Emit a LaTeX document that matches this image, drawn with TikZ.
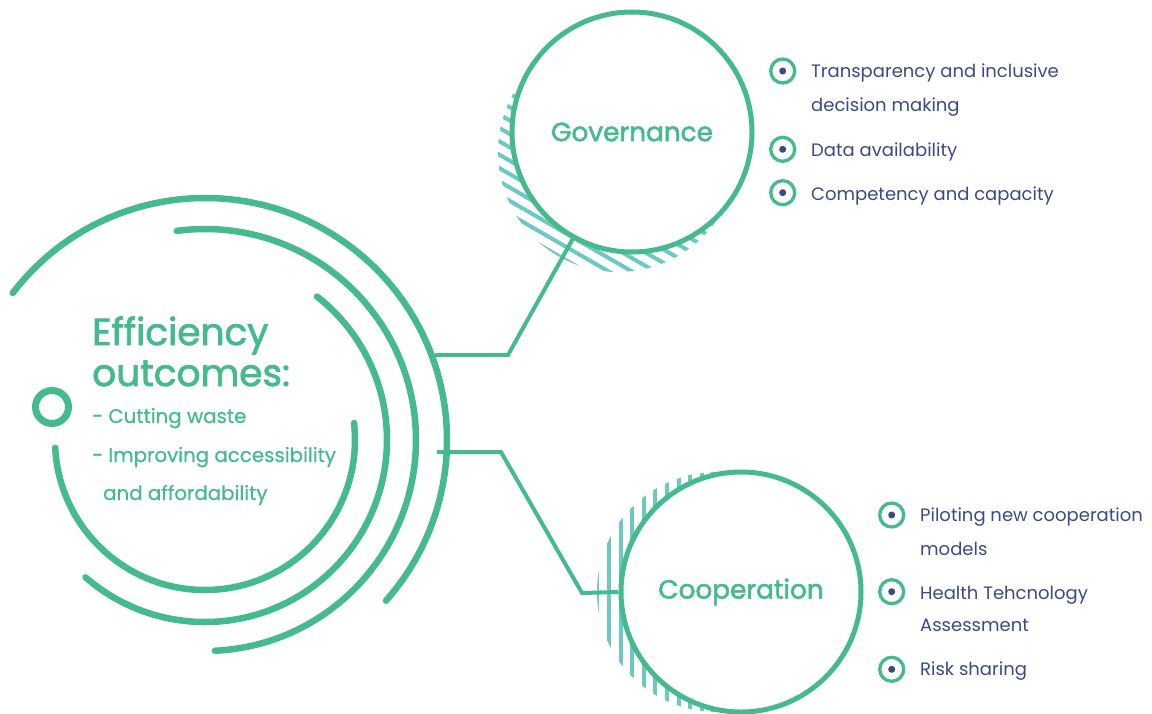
\documentclass[tikz,border=0pt]{standalone}
\usepackage{fontspec}
\setmainfont{Poppins}
\newfontfamily\headfont[FakeBold=2]{Poppins}
\newfontfamily\midfont[FakeBold=0.6]{Poppins}
\definecolor{grn}{HTML}{45BA8D}
\definecolor{hatchc}{HTML}{6CC9C1}
\definecolor{txtblue}{HTML}{3B4A85}
\tikzset{
  arcline/.style={draw=grn, line width=6.5pt, line cap=round},
  conn/.style={draw=grn, line width=4pt},
  hatchline/.style={draw=hatchc, line width=4pt},
  bigcirc/.style={circle, draw=grn, fill=white, line width=5pt, minimum size=240pt, inner sep=0pt, text=grn, font=\headfont\fontsize{26.3}{30}\selectfont},
  bul/.style={circle, draw=grn, line width=3.3pt, minimum size=24pt, inner sep=0pt},
  buldot/.style={circle, fill=txtblue, minimum size=7pt, inner sep=0pt},
  btext/.style={anchor=base west, inner sep=0pt, text=txtblue, font=\fontsize{18}{21}\selectfont},
  gtext/.style={anchor=base west, inner sep=0pt, text=grn, font=\midfont\fontsize{19.8}{23}\selectfont},
  htext/.style={anchor=base west, inner sep=0pt, text=grn, font=\headfont\fontsize{37.5}{42}\selectfont}
}
\begin{document}
\begin{tikzpicture}[x=1pt,y=1pt]
\useasboundingbox (0,0) rectangle (1152,-713);

% hatch of Governance
\begin{scope}
\clip[shift={(618,-152)}, rotate=-30] (0:120) arc[start angle=0, end angle=-180, radius=120] -- cycle;
\foreach \k in {0,...,11}
  \draw[hatchline, shift={(618,-152)}, rotate=-30] (-130,-\k*11.6-3.7) -- (130,-\k*11.6-3.7);
\end{scope}
% hatch of Cooperation
\begin{scope}
\clip[shift={(717,-592)}] (90:120) arc[start angle=90, end angle=270, radius=120] -- cycle;
\foreach \k in {0,...,11}
  \draw[hatchline, shift={(717,-592)}] (-\k*11.6-3.7,-130) -- (-\k*11.6-3.7,130);
\end{scope}

% left arcs
\coordinate (ctr) at (205,-440);
\draw[arcline] (ctr) ++(183:150) arc[start angle=183, end angle=366.5, radius=150];
\draw[arcline] (ctr) ++(229:182) arc[start angle=229, end angle=412, radius=182];
\draw[arcline] (ctr) ++(-87.3:211) arc[start angle=-87.3, end angle=97.7, radius=211];
\draw[arcline] (ctr) ++(142.6:242) arc[start angle=142.6, end angle=-41.6, radius=242];
\node[circle, draw=grn, line width=7pt, minimum size=33pt, inner sep=0pt] (ring) at (52,-407) {};

% main circles
\node[bigcirc] (gov) at (632,-132) {Governance};
\node[bigcirc] (coop) at (741,-592) {Cooperation};

% connectors
\coordinate (g1) at (508,-355);
\coordinate (g2) at (435,-355);
\coordinate (c1) at (582,-593);
\coordinate (c2) at (501,-452);
\coordinate (c3) at (437,-452);
\draw[conn] (gov.241) -- (g1) -- (g2);
\draw[conn] (coop.west) -- (c1) -- (c2) -- (c3);

% efficiency text
\node[htext] (eff1) at (92,-345) {Efficiency};
\node[htext] (eff2) at (92,-386) {outcomes:};
\node[gtext] (e3) at (92,-423) {- Cutting waste};
\node[gtext] (e4) at (92,-462) {- Improving accessibility};
\node[gtext] (e5) at (103,-500) {and affordability};

% governance bullets
\foreach \y/\n in {71/ga,149.3/gb,192.7/gc}{
  \node[bul] (\n) at (782.7,-\y) {};
  \node[buldot] at (\n) {};
}
\node[btext] (gt1) at (811,-77.3) {Transparency and inclusive};
\node[btext] (gt2) at (811,-111.7) {decision making};
\node[btext] (gt3) at (811,-156) {Data availability};
\node[btext] (gt4) at (811,-200) {Competency and capacity};

% cooperation bullets
\foreach \y/\n in {515/ca,591.7/cb,669.3/cc}{
  \node[bul] (\n) at (891.7,-\y) {};
  \node[buldot] at (\n) {};
}
\node[btext] (ct1) at (920,-521.7) {Piloting new cooperation};
\node[btext] (ct2) at (920,-555) {models};
\node[btext] (ct3) at (920,-599.3) {Health Tehcnology};
\node[btext] (ct4) at (920,-631.7) {Assessment};
\node[btext] (ct5) at (920,-675.7) {Risk sharing};
\end{tikzpicture}
\end{document}
